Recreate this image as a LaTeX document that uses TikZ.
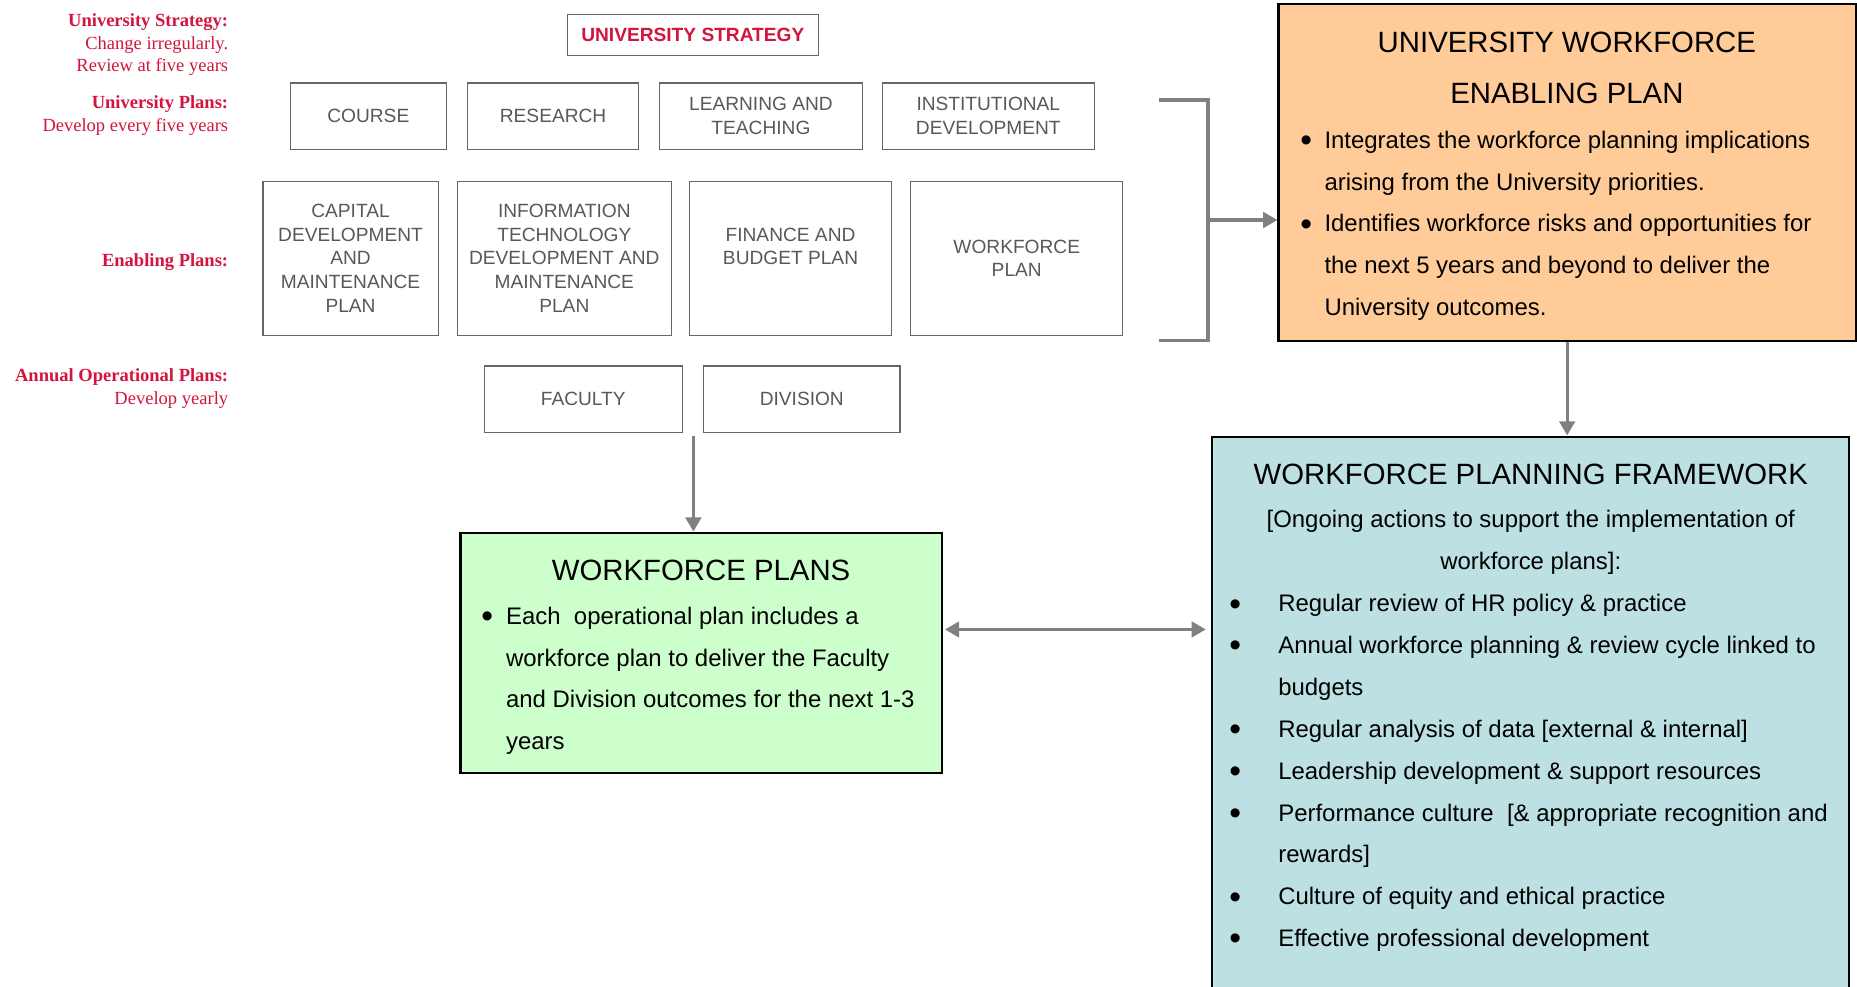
\documentclass[tikz,border=0pt]{standalone}
\usepackage{fontspec}
\setmainfont{Liberation Sans}
\newfontfamily\notefamily{Liberation Serif}
\usetikzlibrary{arrows.meta}

\definecolor{univred}{RGB}{210,20,62}
\definecolor{boxgrey}{RGB}{88,88,88}
\definecolor{peach}{RGB}{255,204,153}
\definecolor{mint}{RGB}{204,255,204}
\definecolor{paleblue}{RGB}{189,224,227}

\newcommand{\planfont}{\fontsize{9.2}{11.4}\selectfont}
\newcommand{\paneltitlefont}{\fontsize{14.1}{17}\selectfont}
\newcommand{\panelbodyfont}{\fontsize{11.5}{14}\selectfont}
\newcommand{\sidenotefont}{\notefamily\fontsize{8.9}{10.8}\selectfont}
\newcommand{\bulletgap}[1]{\makebox[0pt][r]{\raisebox{-0.14em}{\scalebox{1.4}{\textbullet}}\hspace{#1}}}

\begin{document}
\begin{tikzpicture}[>={Triangle[length=0.24cm,width=0.26cm]}, line join=miter]
    \tikzstyle{plan}=[draw=black!60, line width=0.6pt, text=boxgrey, font=\planfont, align=center, inner sep=0pt]
    \tikzstyle{strategy plan}=[plan, text=univred, font=\planfont\bfseries]
    \tikzstyle{panel}=[draw=black, line width=1pt, inner sep=0pt]
    \tikzstyle{paneltitle}=[font=\paneltitlefont, anchor=base, inner sep=0pt]
    \tikzstyle{bodyline}=[font=\panelbodyfont, anchor=base west, inner sep=0pt]
    \tikzstyle{subline}=[font=\panelbodyfont, anchor=base, inner sep=0pt]
    \tikzstyle{sidenote}=[font=\sidenotefont, text=univred, anchor=base east, inner sep=0pt]
    \tikzstyle{connector}=[draw=black!50, line width=1.6pt]

    \useasboundingbox (0,0) rectangle (31.36,-16.66);
    \clip (0,0) rectangle (31.36,-16.66);

    % Annotate the levels on the left
    \foreach \i/\y/\txt in {1/0.45/{\textbf{University Strategy:}}, 2/0.834/{Change irregularly.}, 3/1.20/{Review at five years},
                            4/1.84/{\textbf{University Plans:}}, 5/2.224/{Develop every five years},
                            6/4.50/{\textbf{Enabling Plans:}},
                            7/6.446/{\textbf{Annual Operational Plans:}}, 8/6.828/{Develop yearly}}
        \node[sidenote] (note-\i) at (3.86,-\y) {\txt};

    % Draw the strategy box
    \node[strategy plan, minimum width=4.24cm, minimum height=0.70cm] (strategy) at (11.70,-0.59) {UNIVERSITY STRATEGY};

    % Draw the university plans
    \foreach \name/\x/\w/\txt in {course/6.22/2.64/COURSE, research/9.34/2.88/RESEARCH,
                                  learning/12.85/3.42/{LEARNING AND\\TEACHING},
                                  institutional/16.69/3.58/{INSTITUTIONAL\\DEVELOPMENT}}
        \node[plan, minimum width=\w cm, minimum height=1.12cm] (\name) at (\x,-1.96) {\txt};

    % Draw the enabling plans
    \foreach \name/\x/\w/\txt in {capital/5.92/2.96/{CAPITAL\\DEVELOPMENT\\AND\\MAINTENANCE\\PLAN},
                                  infotech/9.53/3.62/{INFORMATION\\TECHNOLOGY\\DEVELOPMENT AND\\MAINTENANCE\\PLAN},
                                  finance/13.35/3.42/{FINANCE AND\\BUDGET PLAN\\~},
                                  workforce/17.17/3.58/{WORKFORCE\\PLAN}}
        \node[plan, minimum width=\w cm, minimum height=2.60cm] (\name) at (\x,-4.36) {\txt};

    % Draw the operational plans
    \node[plan, minimum width=3.34cm, minimum height=1.12cm] (faculty) at (9.85,-6.74) {FACULTY};
    \node[plan, minimum width=3.32cm, minimum height=1.12cm] (division) at (13.54,-6.74) {DIVISION};

    % University workforce enabling plan
    \node[panel, fill=peach, minimum width=9.75cm, minimum height=5.69cm] (uwep) at (26.465,-2.911) {};
    \node[paneltitle] (uwep-t1) at (26.46,-0.89) {UNIVERSITY WORKFORCE};
    \node[paneltitle] (uwep-t2) at (26.46,-1.745) {ENABLING PLAN};
    \foreach \i/\y/\txt in {1/2.504/{\bulletgap{0.21cm}Integrates the workforce planning implications},
                            2/3.21/{arising from the University priorities.},
                            3/3.916/{\bulletgap{0.21cm}Identifies workforce risks and opportunities for},
                            4/4.622/{the next 5 years and beyond to deliver the},
                            5/5.328/{University outcomes.}}
        \node[bodyline] (uwep-\i) at (22.36,-\y) {\txt};

    % Workforce planning framework
    \node[panel, fill=paleblue, minimum width=10.77cm, minimum height=9.83cm] (wpf) at (25.845,-12.287) {};
    \node[paneltitle] (wpf-t) at (25.85,-8.18) {WORKFORCE PLANNING FRAMEWORK};
    \node[subline] (wpf-s1) at (25.85,-8.914) {[Ongoing actions to support the implementation of};
    \node[subline] (wpf-s2) at (25.85,-9.62) {workforce plans]:};
    \foreach \i/\y/\txt in {1/10.33/{\bulletgap{0.63cm}Regular review of HR policy \& practice},
                            2/11.037/{\bulletgap{0.63cm}Annual workforce planning \& review cycle linked to},
                            3/11.744/{budgets},
                            4/12.451/{\bulletgap{0.63cm}Regular analysis of data [external \& internal]},
                            5/13.158/{\bulletgap{0.63cm}Leadership development \& support resources},
                            6/13.865/{\bulletgap{0.63cm}Performance culture~ [\& appropriate recognition and},
                            7/14.572/{rewards]},
                            8/15.279/{\bulletgap{0.63cm}Culture of equity and ethical practice},
                            9/15.986/{\bulletgap{0.63cm}Effective professional development}}
        \node[bodyline] (wpf-\i) at (21.58,-\y) {\txt};

    % Workforce plans
    \node[panel, fill=mint, minimum width=8.124cm, minimum height=4.052cm] (wplans) at (11.838,-11.022) {};
    \node[paneltitle] (wplans-t) at (11.84,-9.81) {WORKFORCE PLANS};
    \foreach \i/\y/\txt in {1/10.54/{\bulletgap{0.22cm}Each~ operational plan includes a},
                            2/11.247/{workforce plan to deliver the Faculty},
                            3/11.954/{and Division outcomes for the next 1-3},
                            4/12.661/{years}}
        \node[bodyline] (wplans-\i) at (8.54,-\y) {\txt};

    % Connect the plans
    \coordinate (brtop) at (19.57,-1.69);
    \coordinate (brmid) at (20.40,-3.716);
    \coordinate (brbot) at (19.57,-5.75);
    \draw[connector] (brtop) -| (brmid) |- (brbot);
    \draw[connector, ->] (brmid) -- (brmid -| uwep.west);

    \draw[connector, ->] (uwep.south) -- (uwep.south |- wpf.north);

    \coordinate (opgap) at (11.71,-7.37);
    \draw[connector, ->] (opgap) -- (opgap |- wplans.north);

    \coordinate (link) at (18.0,-10.63);
    \draw[connector, <->, shorten <=0.04cm, shorten >=0.08cm] (wplans.east |- link) -- (wpf.west |- link);

\end{tikzpicture}
\end{document}
